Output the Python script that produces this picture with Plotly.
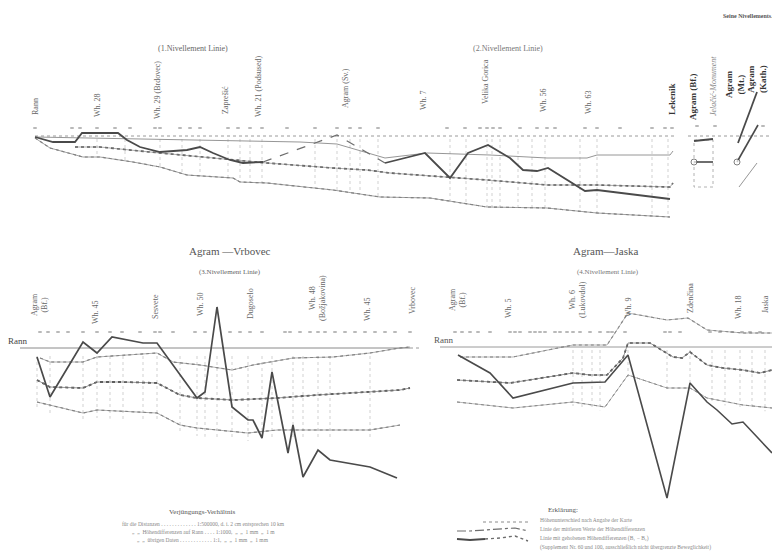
import numpy as np
import plotly.graph_objects as go

W, H = 772, 556
SERIF = "Liberation Serif, DejaVu Serif, serif"
INK_DARK = "#4a4a4a"
INK = "#6e6e6e"
INK_LIGHT = "#9a9a9a"

# ---------------------------------------------------------------------------
# Line 1 + 2: Rann - Agram - Lekenik  (distance from Rann, height diff. in mm)
# ---------------------------------------------------------------------------
top_stations = ["Rann", "Wh. 28", "Wh. 29 (Brdovec)", "Zaprešić", "Wh. 21 (Podsused)",
                "Agram (Sv.)", "Wh. 7", "Velika Gorica", "Wh. 56", "Wh. 63", "Lekenik"]
top_station_x = [0, 62, 122, 190, 223, 310, 388, 450, 508, 553, 637]
top_station_y = [29, 31, 46, 36, 49, 48, 36, 54, 36, 34, 37]

top_bench_x = [0, 37, 45, 62, 80, 95, 120, 125, 145, 155, 165, 193, 203, 215, 227,
               252, 280, 302, 315, 325, 343, 412, 430, 445, 452, 458, 465, 485, 502,
               512, 520, 550, 562, 585, 617, 630, 637]

top_raised_a_x = [0, 18, 40, 47, 83, 92, 105, 125, 152, 165, 178, 195, 208, 228]
top_raised_a_y = [-1, -6, -6, 3, 3, -4, -11, -16, -14, -11, -17, -24, -27, -26]
top_raised_gap_x = [228, 302, 350]
top_raised_gap_y = [-26, 1, -27]
top_raised_b_x = [350, 390, 415, 433, 453, 475, 488, 502, 513, 550, 562, 635]
top_raised_b_y = [-27, -17, -42, -17, -9, -22, -34, -35, -32, -55, -54, -63]

top_upper_x = [0, 55, 125, 195, 265, 302, 350, 392, 455, 512, 552, 562, 635, 638]
top_upper_y = [-1, -2, -4, -5, -6, -8, -22, -17, -19, -22, -22, -19, -19, -15]

top_mean_x = [40, 65, 125, 198, 232, 298, 332, 355, 412, 452, 512, 562, 635, 638]
top_mean_y = [-11, -11, -17, -24, -27, -32, -34, -37, -41, -44, -49, -49, -51, -47]

top_lower_x = [0, 15, 48, 65, 98, 125, 152, 198, 205, 232, 298, 345, 395, 452, 512, 562, 635]
top_lower_y = [-2, -12, -21, -21, -26, -31, -39, -42, -46, -47, -54, -61, -62, -71, -72, -77, -81]

top_hair_x = [62, 90, 125, 147, 165, 193, 205, 215, 227, 280, 302, 315, 325, 343,
              415, 431, 452, 457, 465, 483, 497, 510, 545, 562, 617, 633]

# Single benchmarks of Agram (right-hand block)
agram_bf_x = [12, 31]
agram_bf_raised_y = [-5, -3]
agram_bf_mean_y = [-26, -26]
agram_box_x = [12, 31, 31, 12, 12]
agram_box_y = [-4, -4, -51, -51, -4]
agram_mt_x = [56, 75]
agram_mt_y = [-7, 44]
agram_kath_x = [55, 76]
agram_kath_y = [-26, 11]
agram_low_x = [57, 75]
agram_low_y = [-51, -27]
single_stations = ["Agram (Bf.)", "Jelačić-Monument", "Agram<br>(Mt.)", "Agram<br>(Kath.)"]
single_station_x = [11, 31, 53, 75]
single_station_y = [39, 50, 51, 57]

# ---------------------------------------------------------------------------
# Line 3: Agram - Vrbovec
# ---------------------------------------------------------------------------
vr_stations = ["Agram<br>(Bf.)", "Wh. 45", "Sesvete", "Wh. 50", "Dugoselo",
               "Wh. 48<br>(Božjakovina)", "Wh. 45", "Vrbovec"]
vr_station_x = [4, 60, 120, 165, 215, 282, 332, 377]
vr_station_y = [43, 36, 41, 44, 44, 50, 39, 48]

vr_bench_x = [5, 13, 23, 33, 48, 62, 75, 87, 105, 120, 125, 138, 160, 170, 195, 205,
              215, 227, 250, 255, 265, 275, 283, 290, 300, 310, 320, 330, 340, 350, 360, 375]

vr_raised_x = [2, 15, 48, 62, 77, 108, 122, 162, 170, 182, 197, 213, 218, 227, 237,
               253, 258, 268, 283, 295, 335, 362]
vr_raised_y = [-9, -49, 6, -5, 11, 5, 5, -50, -44, 41, -59, -72, -72, -90, -24,
               -105, -77, -129, -102, -112, -119, -130]
vr_upper_x = [5, 15, 48, 62, 122, 138, 165, 197, 218, 258, 298, 335, 365, 375]
vr_upper_y = [-10, -14, -14, -9, -5, -14, -17, -22, -17, -10, -9, -5, 0, 1]
vr_mean_x = [2, 15, 48, 62, 88, 122, 145, 162, 198, 242, 282, 335, 365, 375]
vr_mean_y = [-32, -39, -40, -34, -34, -35, -47, -50, -52, -50, -47, -44, -42, -40]
vr_lower_x = [2, 48, 62, 122, 145, 162, 213, 242, 335, 365]
vr_lower_y = [-54, -65, -62, -65, -77, -80, -85, -82, -82, -77]
vr_hair_x = [2, 15, 48, 62, 75, 88, 108, 122, 145, 162, 170, 182, 197, 213, 227,
             237, 258, 268, 283, 295, 335]

# ---------------------------------------------------------------------------
# Line 4: Agram - Jaska
# ---------------------------------------------------------------------------
ja_stations = ["Agram<br>(Bf.)", "Wh. 5", "Wh. 6<br>(Lukovdol)", "Wh. 9",
               "Zdenčina", "Wh. 18", "Jaska"]
ja_station_x = [0, 51, 120, 171, 233, 281, 308]
ja_station_y = [47, 39, 47, 40, 49, 40, 43]

ja_bench_x = [-2, 5, 13, 21, 33, 53, 58, 63, 73, 78, 83, 88, 98, 103, 110, 116, 123,
              133, 143, 151, 155, 168, 208, 213, 223, 253, 263, 275, 285, 293, 303]

ja_upper_x = [3, 56, 116, 150, 171, 210, 231, 250, 286, 315]
ja_upper_y = [-10, -10, 2, 2, 34, 27, 29, 17, 14, 14]
ja_raised_x = [1, 33, 56, 116, 148, 171, 210, 233, 250, 260, 275, 286, 315]
ja_raised_y = [-8, -26, -51, -36, -35, -8, -151, -36, -55, -63, -77, -75, -106]
ja_mean_x = [0, 53, 116, 133, 150, 166, 171, 193, 216, 225, 233, 250, 266, 286, 303, 315]
ja_mean_y = [-33, -36, -26, -28, -28, -11, 4, 4, -10, -11, -5, -18, -21, -23, -26, -23]
ja_lower_x = [0, 56, 116, 133, 148, 171, 210, 233, 250, 286, 315]
ja_lower_y = [-55, -61, -55, -58, -60, -28, -41, -41, -51, -58, -61]
ja_hair_x = [116, 125, 135, 143, 171, 210, 233, 255, 268, 283, 295, 308]

# ---------------------------------------------------------------------------
# Legend texts
# ---------------------------------------------------------------------------
scale_title = "Verjüngungs-Verhältnis"
scale_rows = [
    "für die Distanzen . . . . . . . . . . . . . 1:500000, d. i. 2 cm entsprechen 10 km",
    "„  „  Höhendifferenzen auf Rann . . . . 1:1000,  „  „  1 mm  „  1 m",
    "„  „  übrigen Daten . . . . . . . . . . . . 1:1,  „  „  1 mm  „  1 mm",
]
key_title = "Erklärung:"
key_rows = [
    "Höhenunterschied nach Angabe der Karte",
    "Linie der mittleren Werte der Höhendifferenzen",
    "Linie mit gehobenen Höhendifferenzen (B₁ − B₂)",
    "(Supplement Nr. 60 und 100, ausschließlich nicht übergrenzte Beweglichkeit)",
]

# ---------------------------------------------------------------------------
fig = go.Figure()

# panel boxes in page pixels: (left, right, top, bottom, origin_x, origin_y)
panels = {
    "": (18, 682, 40, 232, 35, 136),
    "2": (682, 772, 40, 232, 682, 136),
    "3": (0, 420, 236, 492, 35, 348),
    "4": (420, 772, 236, 506, 457, 347),
    "5": (440, 560, 505, 556, 440, 505),
}


def axis_setup(key):
    l, r, t, b, ox, oy = panels[key]
    common = dict(visible=False, showgrid=False, zeroline=False, fixedrange=True)
    xa = dict(domain=[l / W, r / W], range=[l - ox, r - ox], **common)
    ya = dict(domain=[1 - b / H, 1 - t / H], range=[oy - b, oy - t], **common)
    if key:
        xa["anchor"] = "y" + key
        ya["anchor"] = "x" + key
    fig.update_layout(**{"xaxis" + key: xa, "yaxis" + key: ya})


for k in panels:
    axis_setup(k)


def refs(key):
    return dict(xaxis="x" + key, yaxis="y" + key)


def line(key, x, y, color=INK, width=1.0, dash="solid", mode="lines", marker=None):
    tr = go.Scatter(x=x, y=y, mode=mode, hoverinfo="skip", showlegend=False,
                    line=dict(color=color, width=width, dash=dash), **refs(key))
    if marker:
        tr.marker = marker
    fig.add_trace(tr)


def hairlines(key, xs, top, lower_x, lower_y, extra=0):
    hx, hy = [], []
    bottoms = np.interp(xs, lower_x, lower_y)
    for x, b in zip(xs, bottoms):
        hx += [x, x, None]
        hy += [top, b - extra, None]
    line(key, hx, hy, color="#bdbdbd", width=0.7, dash="dot")


def benches(key, xs, level):
    fig.add_trace(go.Scatter(x=xs, y=[level] * len(xs), mode="markers", hoverinfo="skip",
                             showlegend=False,
                             marker=dict(symbol="line-ew", size=2.5, color="#a8a8a8",
                                         line=dict(width=1.6, color="#a8a8a8")),
                             **refs(key)))


def station_labels(key, names, xs, ys, size=8, color="#555", bold=False, italic=False):
    for n, x, y in zip(names, xs, ys):
        txt = "<b>%s</b>" % n if bold else n
        if italic:
            txt = "<i>%s</i>" % txt
        fig.add_annotation(x=x, y=y, xref="x" + key, yref="y" + key, text=txt,
                           textangle=-90, showarrow=False, xanchor="center",
                           yanchor="middle",
                           font=dict(family=SERIF, size=size, color=color))


def page_text(x, y, text, size=8, color="#555", anchor="center"):
    fig.add_annotation(x=x / W, y=1 - y / H, xref="paper", yref="paper", text=text,
                       showarrow=False, xanchor=anchor, yanchor="middle",
                       font=dict(family=SERIF, size=size, color=color))


# --- top panel --------------------------------------------------------------
hairlines("", top_hair_x, -3, top_lower_x, top_lower_y)
line("", [0, 640], [0, 0], color=INK_LIGHT, width=1, dash="dot")
benches("", top_bench_x, 8)
line("", top_lower_x, top_lower_y, color=INK, width=1.1, dash="dot")
line("", top_lower_x, top_lower_y, color="#8a8a8a", width=0.8)
line("", top_mean_x, top_mean_y, color=INK_DARK, width=1.6, dash="dot")
line("", top_mean_x, top_mean_y, color="#8a8a8a", width=0.7)
line("", top_upper_x, top_upper_y, color="#8a8a8a", width=0.9)
line("", top_raised_a_x, top_raised_a_y, color=INK_DARK, width=1.8)
line("", top_raised_gap_x, top_raised_gap_y, color=INK, width=1.2, dash="dash")
line("", top_raised_b_x, top_raised_b_y, color=INK_DARK, width=1.8)
station_labels("", top_stations[:-1], top_station_x[:-1], top_station_y[:-1],
               size=8, color="#666")
station_labels("", top_stations[-1:], top_station_x[-1:], top_station_y[-1:],
               size=9, color="#333", bold=True)

# --- single benchmarks ------------------------------------------------------
line("2", [6, 90], [0, 0], color=INK_LIGHT, width=1, dash="dot")
benches("2", [15, 33, 81], 10)
line("2", agram_box_x, agram_box_y, color="#a0a0a0", width=0.8, dash="dot")
line("2", agram_bf_x, agram_bf_raised_y, color=INK_DARK, width=2)
line("2", agram_bf_x, agram_bf_mean_y, color=INK_DARK, width=1.6, mode="lines+markers",
     marker=dict(size=[6, 0], color="white", line=dict(color=INK_DARK, width=1)))
line("2", agram_mt_x, agram_mt_y, color=INK_DARK, width=1.8)
line("2", agram_kath_x, agram_kath_y, color=INK_DARK, width=1.6, mode="lines+markers",
     marker=dict(size=[6, 0], color="white", line=dict(color=INK_DARK, width=1)))
line("2", agram_low_x, agram_low_y, color="#8a8a8a", width=0.9)
station_labels("2", single_stations[:1], single_station_x[:1], single_station_y[:1],
               size=9, color="#333", bold=True)
station_labels("2", single_stations[1:2], single_station_x[1:2], single_station_y[1:2],
               size=8, color="#888", italic=True)
station_labels("2", single_stations[2:], single_station_x[2:], single_station_y[2:],
               size=9, color="#333", bold=True)

# --- Agram - Vrbovec ----------------------------------------------------------
hairlines("3", vr_hair_x, -8, vr_lower_x, vr_lower_y, extra=8)
line("3", [-15, 375], [0, 0], color="#8a8a8a", width=1)
line("3", [375, 385], [0, 0], color=INK_LIGHT, width=1, dash="dot")
benches("3", vr_bench_x, 16)
line("3", vr_lower_x, vr_lower_y, color=INK, width=1.1, dash="dot")
line("3", vr_lower_x, vr_lower_y, color="#8f8f8f", width=0.7)
line("3", vr_upper_x, vr_upper_y, color=INK, width=1.1, dash="dot")
line("3", vr_upper_x, vr_upper_y, color="#8f8f8f", width=0.7)
line("3", vr_mean_x, vr_mean_y, color=INK_DARK, width=1.8, dash="dot")
line("3", vr_mean_x, vr_mean_y, color="#7a7a7a", width=0.8)
line("3", vr_raised_x, vr_raised_y, color=INK_DARK, width=1.7)
station_labels("3", vr_stations, vr_station_x, vr_station_y, size=8, color="#666")
page_text(17, 341, "Rann", size=9, color="#444")

# --- Agram - Jaska ------------------------------------------------------------
hairlines("4", ja_hair_x, -3, ja_lower_x, ja_lower_y, extra=4)
line("4", [-17, 315], [0, 0], color="#9a9a9a", width=1)
benches("4", ja_bench_x, 15)
line("4", ja_lower_x, ja_lower_y, color=INK, width=1.0, dash="dot")
line("4", ja_lower_x, ja_lower_y, color="#9a9a9a", width=0.7)
line("4", ja_upper_x, ja_upper_y, color=INK, width=1.1, dash="dot")
line("4", ja_upper_x, ja_upper_y, color="#9a9a9a", width=0.7)
line("4", ja_mean_x, ja_mean_y, color=INK_DARK, width=1.7, dash="dot")
line("4", ja_mean_x, ja_mean_y, color="#7a7a7a", width=0.8)
line("4", ja_raised_x, ja_raised_y, color=INK_DARK, width=1.6)
station_labels("4", ja_stations, ja_station_x, ja_station_y, size=8, color="#666")
page_text(443, 340, "Rann", size=9, color="#555")

# --- titles -------------------------------------------------------------------
page_text(193, 48, "(1.Nivellement Linie)", size=8, color="#666")
page_text(508, 48, "(2.Nivellement Linie)", size=8, color="#777")
page_text(748, 16, "<b>Seine Nivellements.</b>", size=6, color="#555")
page_text(230, 251, "Agram —Vrbovec", size=11, color="#555")
page_text(230, 272, "(3.Nivellement Linie)", size=7, color="#666")
page_text(605, 251, "Agram—Jaska", size=11, color="#555")
page_text(608, 272, "(4.Nivellement Linie)", size=7, color="#777")

# --- scale notes ----------------------------------------------------------------
page_text(202, 512, scale_title, size=7, color="#555")
for i, row in enumerate(scale_rows):
    page_text(203, 524 + 8 * i, row, size=5.5, color="#888")

# --- key ------------------------------------------------------------------------
page_text(563, 510, key_title, size=7, color="#555")
for i, row in enumerate(key_rows):
    page_text(538, 520 + 9 * i, row, size=5.5, color="#888", anchor="left")

key_x = [17, 30, 45, 60, 75, 88]
line("5", [43, 88], [-17, -17], color="#8a8a8a", width=1, dash="dot")
line("5", key_x, [-26, -26, -25, -24, -23, -26], color=INK, width=1.2, dash="dashdot")
line("5", key_x[:3], [-34, -35, -34], color=INK_DARK, width=2)
line("5", key_x[2:], [-34, -33, -31, -36], color=INK, width=1.4, dash="dot")

fig.update_layout(width=W, height=H, margin=dict(l=0, r=0, t=0, b=0),
                  paper_bgcolor="white", plot_bgcolor="rgba(0,0,0,0)")

fig.write_html("out.html")
